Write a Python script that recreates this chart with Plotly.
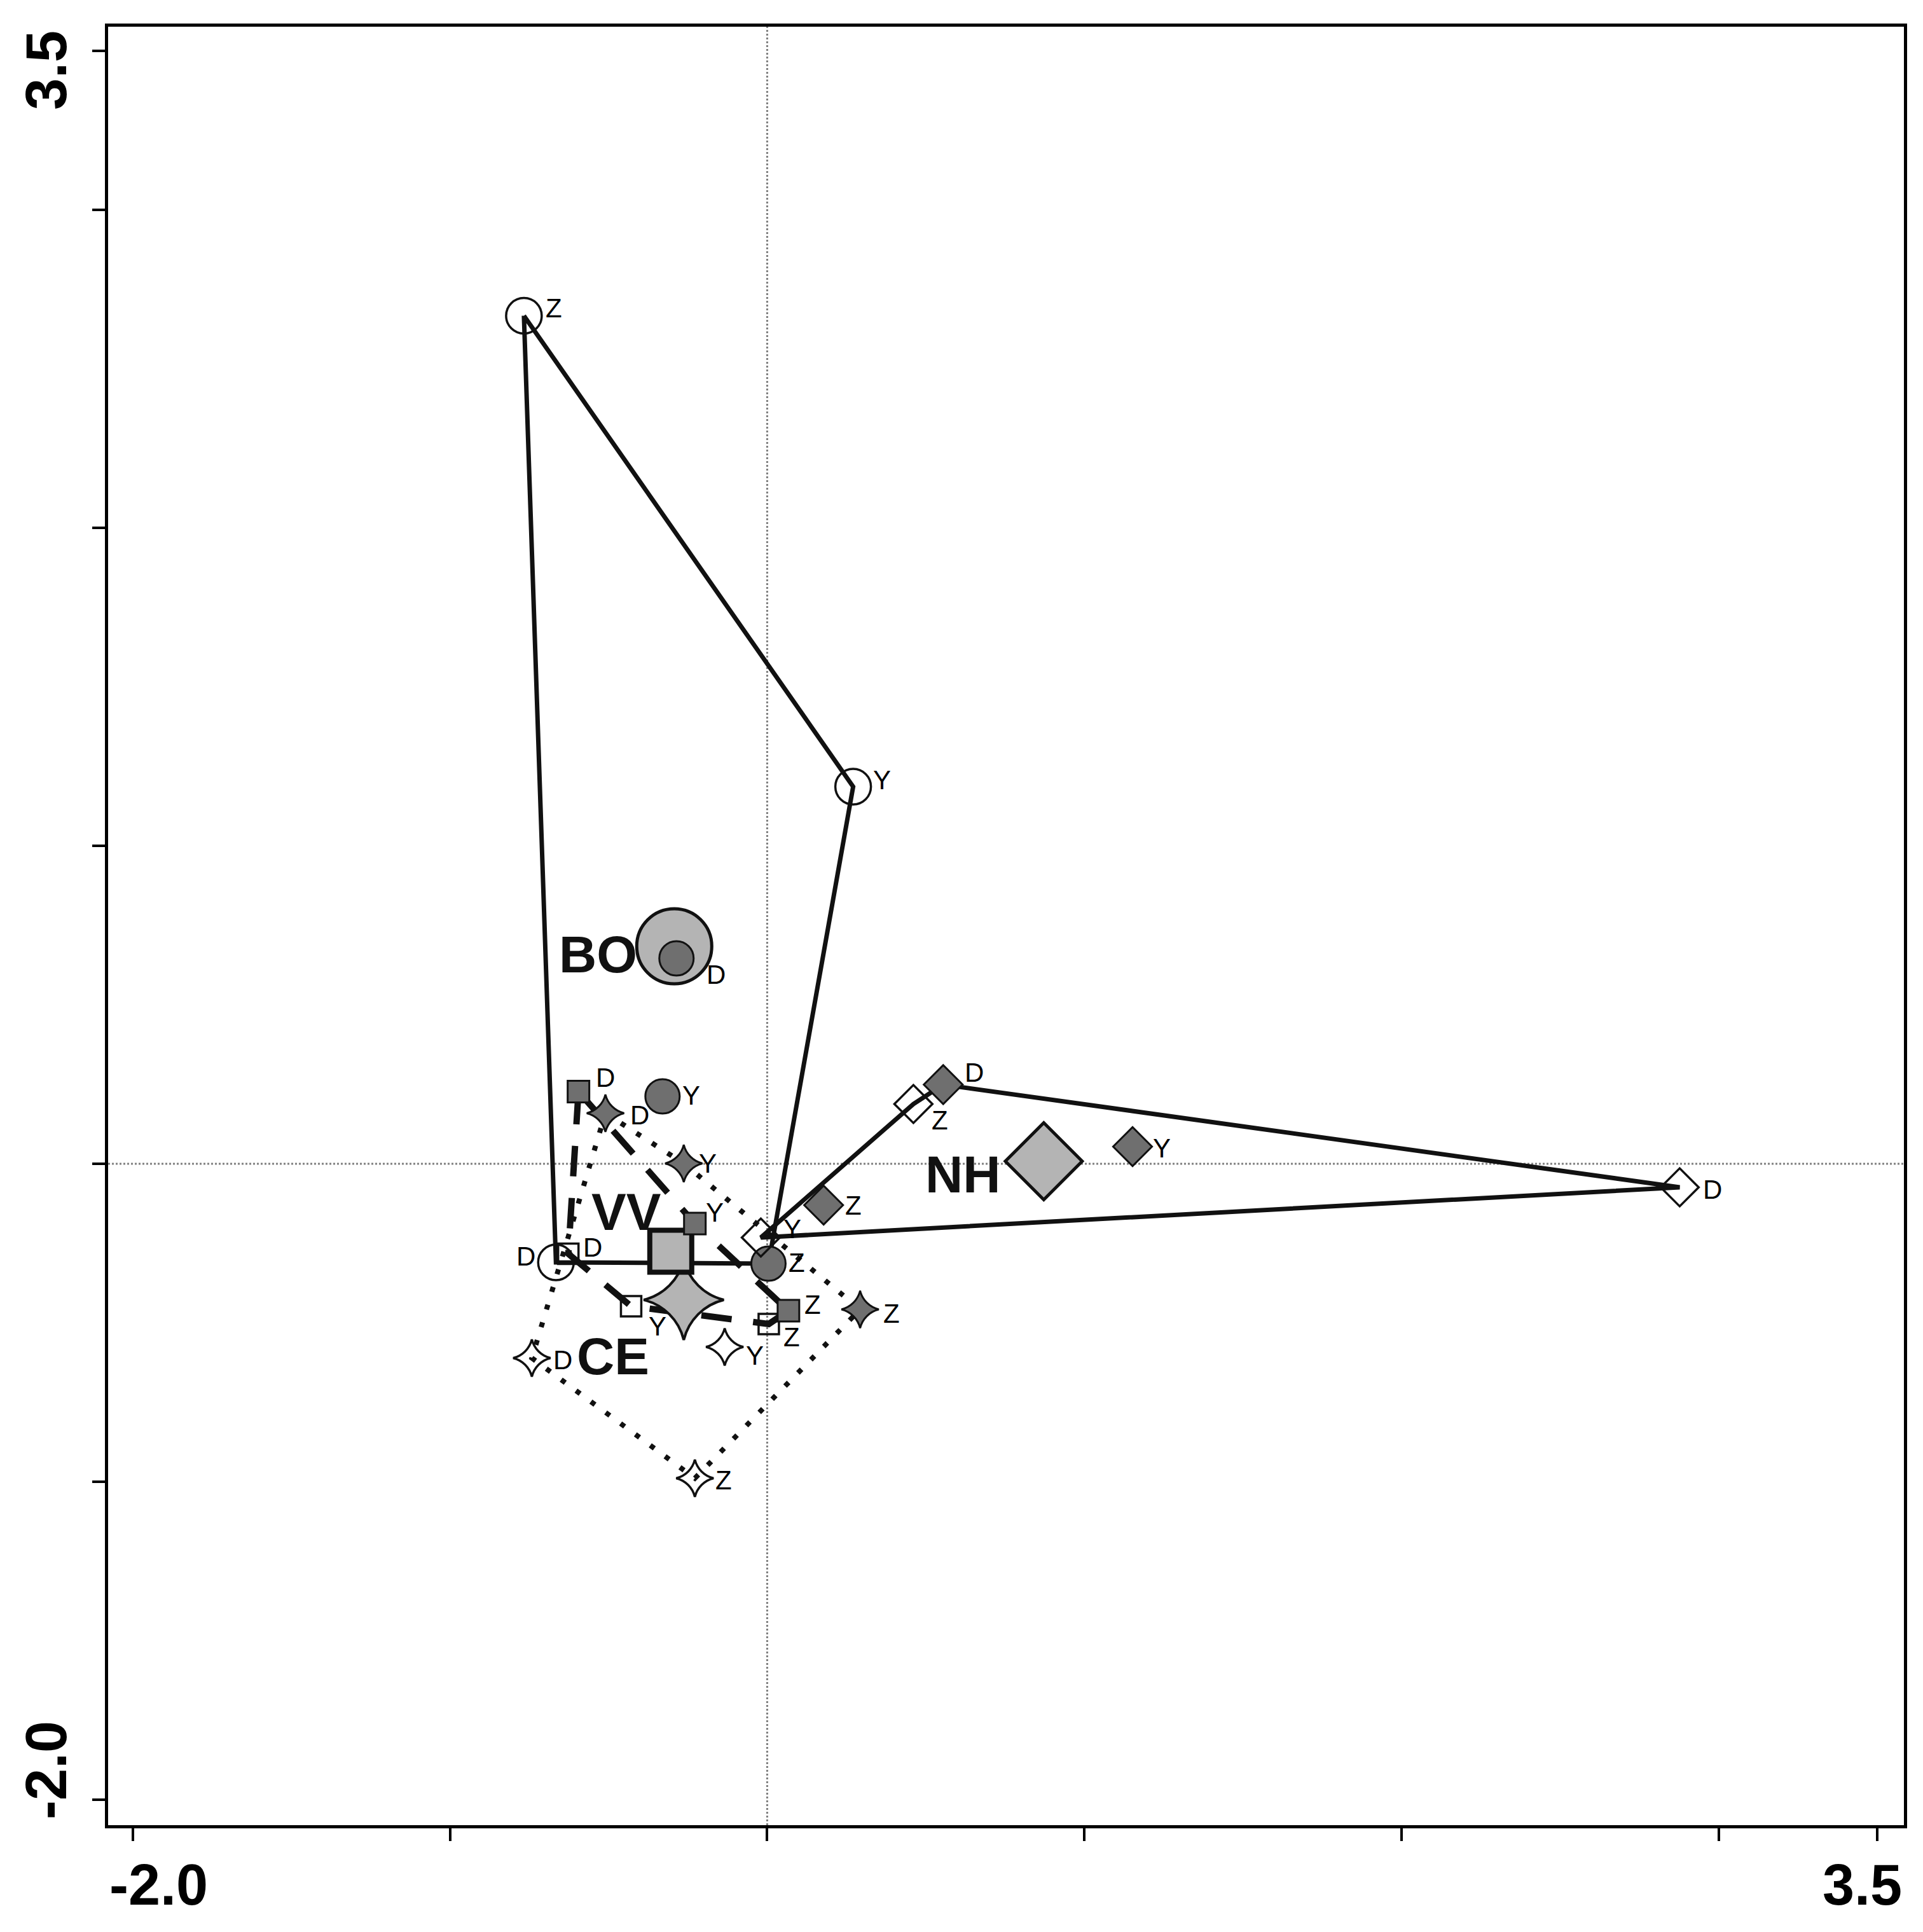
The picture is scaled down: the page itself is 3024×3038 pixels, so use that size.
import plotly.graph_objects as go

# ---------------- data ----------------
seasons = ["D", "Y", "Z"]

# BO (circles)
bo_open_x = [-0.666, 0.271, -0.767]
bo_open_y = [-0.310, 1.186, 2.667]
bo_fill_x = [-0.286, -0.330, 0.004]
bo_fill_y = [0.646, 0.212, -0.314]
bo_cent_x = [-0.293]
bo_cent_y = [0.684]

# NH (diamonds)
nh_open_x = [2.877, -0.020, 0.461]
nh_open_y = [-0.074, -0.232, 0.188]
nh_fill_x = [0.555, 1.152, 0.178]
nh_fill_y = [0.249, 0.054, -0.130]
nh_cent_x = [0.872]
nh_cent_y = [0.008]

# VV (squares)
vv_open_x = [-0.627, -0.429, 0.005]
vv_open_y = [-0.283, -0.448, -0.504]
vv_fill_x = [-0.595, -0.228, 0.067]
vv_fill_y = [0.227, -0.188, -0.462]
vv_cent_x = [-0.304]
vv_cent_y = [-0.275]

# CE (4-point stars)
ce_open_x = [-0.742, -0.134, -0.228]
ce_open_y = [-0.611, -0.576, -0.989]
ce_fill_x = [-0.510, -0.263, 0.293]
ce_fill_y = [0.159, 0.001, -0.458]
ce_cent_x = [-0.263]
ce_cent_y = [-0.428]

group_names = ["BO", "NH", "VV", "CE"]
group_label_x = [-0.534, 0.616, -0.444, -0.487]
group_label_y = [0.659, -0.032, -0.150, -0.604]

# hull vertex order: (series, season index)
bo_hull = [("o", 2), ("o", 1), ("f", 2), ("o", 0), ("o", 2)]
nh_hull = [("f", 0), ("o", 0), ("o", 1), ("o", 2), ("f", 0)]
vv_hull = [("f", 0), ("f", 1), ("f", 2), ("o", 2), ("o", 1), ("o", 0), ("f", 0)]
ce_hull = [("f", 0), ("f", 1), ("f", 2), ("o", 2), ("o", 0), ("f", 0)]

x_tick_vals = [-2, -1, 0, 1, 2, 3, 3.5]
y_tick_vals = [-2, -1, 0, 1, 2, 3, 3.5]
x_label_vals = [-2.0, 3.5]
x_label_text = ["-2.0", "3.5"]
y_label_vals = [-2.0, 3.5]
y_label_text = ["-2.0", "3.5"]

# ---------------- styles ----------------
FONT = "Liberation Sans, Arial, sans-serif"
INK = "#111111"
GRAY = "#6f6f6f"
STIPPLE = "#b4b4b4"

# pixel offsets of the D/Y/Z letters from their markers (dx, dy-down)
bo_open_off = [(-47, -10), (45, -11), (47, -12)]
bo_fill_off = [(62, 25), (45, -2), (45, -2)]
nh_open_off = [(52, 3), (50, -14), (42, 25)]
nh_fill_off = [(49, -19), (46, 2), (47, 0)]
vv_open_off = [(38, -10), (42, 31), (36, 20)]
vv_fill_off = [(42, -22), (31, -18), (38, -10)]
ce_open_off = [(49, 3), (47, 13), (45, 3)]
ce_fill_off = [(54, 3), (38, 0), (49, 6)]

fig = go.Figure()


def hull_xy(order, ox, oy, fx, fy):
    xs, ys = [], []
    for s, i in order:
        if s == "o":
            xs.append(ox[i]); ys.append(oy[i])
        else:
            xs.append(fx[i]); ys.append(fy[i])
    return xs, ys


hulls = [
    (bo_hull, bo_open_x, bo_open_y, bo_fill_x, bo_fill_y, dict(color=INK, width=7)),
    (nh_hull, nh_open_x, nh_open_y, nh_fill_x, nh_fill_y, dict(color=INK, width=7)),
    (vv_hull, vv_open_x, vv_open_y, vv_fill_x, vv_fill_y, dict(color=INK, width=10, dash="48px,34px")),
    (ce_hull, ce_open_x, ce_open_y, ce_fill_x, ce_fill_y, dict(color=INK, width=8, dash="8px,21px")),
]
for order, ox, oy, fx, fy, ln in hulls:
    hx, hy = hull_xy(order, ox, oy, fx, fy)
    fig.add_trace(go.Scatter(x=hx, y=hy, mode="lines", line=ln,
                             hoverinfo="skip", showlegend=False))

# centroids (CE under VV)
centroids = [
    (ce_cent_x, ce_cent_y, "star-diamond", 90, 4),
    (vv_cent_x, vv_cent_y, "square", 66, 8),
    (bo_cent_x, bo_cent_y, "circle", 118, 5),
    (nh_cent_x, nh_cent_y, "diamond", 93, 5),
]
for cx, cy, sym, sz, lw in centroids:
    fig.add_trace(go.Scatter(x=cx, y=cy, mode="markers",
                             marker=dict(symbol=sym, size=sz, color=STIPPLE,
                                         line=dict(color=INK, width=lw)),
                             hoverinfo="skip", showlegend=False))

# sample points
samples = [
    (bo_open_x, bo_open_y, "circle-open", 56, False, bo_open_off),
    (bo_fill_x, bo_fill_y, "circle", 54, True, bo_fill_off),
    (nh_open_x, nh_open_y, "diamond-open", 46, False, nh_open_off),
    (nh_fill_x, nh_fill_y, "diamond", 47, True, nh_fill_off),
    (vv_open_x, vv_open_y, "square-open", 32, False, vv_open_off),
    (vv_fill_x, vv_fill_y, "square", 34, True, vv_fill_off),
    (ce_open_x, ce_open_y, "star-diamond-open", 42, False, ce_open_off),
    (ce_fill_x, ce_fill_y, "star-diamond", 42, True, ce_fill_off),
]
for sx, sy, sym, sz, filled, offs in samples:
    if filled:
        mk = dict(symbol=sym, size=sz, color=GRAY, line=dict(color=INK, width=3))
    else:
        mk = dict(symbol=sym, size=sz, color=INK, line=dict(color=INK, width=3.5))
    fig.add_trace(go.Scatter(x=sx, y=sy, mode="markers", marker=mk,
                             hoverinfo="skip", showlegend=False))
    for px, py, lab, (dx, dy) in zip(sx, sy, seasons, offs):
        fig.add_annotation(x=px, y=py, text=lab, showarrow=False,
                           xanchor="center", yanchor="middle",
                           xshift=dx, yshift=-dy,
                           font=dict(family=FONT, size=42, color="black"))

# group labels
for name, gx, gy in zip(group_names, group_label_x, group_label_y):
    fig.add_annotation(x=gx, y=gy, text="<b>%s</b>" % name, showarrow=False,
                       font=dict(family=FONT, size=82, color=INK),
                       xanchor="center", yanchor="middle")

# tick labels as annotations (pulled inward as in the reference)
x_shift = {-2.0: 41, 3.5: -24}
for v, t in zip(x_label_vals, x_label_text):
    fig.add_annotation(x=v, y=0, xref="x", yref="paper", text="<b>%s</b>" % t,
                       showarrow=False, xanchor="center", yanchor="middle",
                       xshift=x_shift[v], yshift=-94,
                       font=dict(family=FONT, size=90, color="black"))
y_shift = {-2.0: 46, 3.5: -31}
for v, t in zip(y_label_vals, y_label_text):
    fig.add_annotation(x=0, y=v, xref="paper", yref="y", text="<b>%s</b>" % t,
                       showarrow=False, xanchor="center", yanchor="middle",
                       textangle=-90, xshift=-97, yshift=y_shift[v],
                       font=dict(family=FONT, size=90, color="black"))

# zero reference lines
fig.add_shape(type="line", x0=0, x1=0, y0=0, y1=1, xref="x", yref="paper",
              line=dict(color="#808080", width=3, dash="dot"), layer="below")
fig.add_shape(type="line", x0=0, x1=1, y0=0, y1=0, xref="paper", yref="y",
              line=dict(color="#808080", width=3, dash="dot"), layer="below")

axis_common = dict(showgrid=False, zeroline=False, showline=True, mirror=True,
                   linecolor="black", linewidth=5, ticks="outside", ticklen=20,
                   tickwidth=4, tickcolor="black", showticklabels=False)
fig.update_xaxes(range=[-2.078, 3.584], tickvals=x_tick_vals, **axis_common)
fig.update_yaxes(range=[-2.08, 3.576], tickvals=y_tick_vals, **axis_common)

# page body has an 8px default margin: size the figure to fit the window
fig.update_layout(width=3008, height=3022,
                  margin=dict(l=162, r=22, t=34, b=160),
                  paper_bgcolor="white", plot_bgcolor="white",
                  font=dict(family=FONT))

fig.write_html("out.html")
